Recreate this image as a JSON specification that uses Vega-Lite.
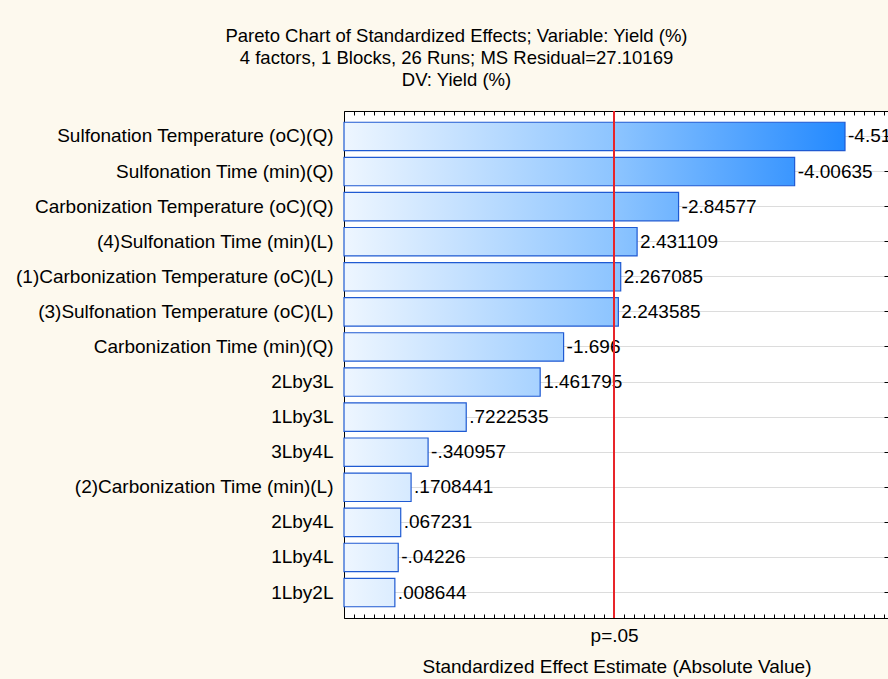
{
  "$schema": "https://vega.github.io/schema/vega-lite/v6.json",
  "width": 545,
  "height": 507,
  "autosize": {"type": "none"},
  "padding": {"left": 344, "top": 111, "right": 0, "bottom": 61},
  "background": "#FDF9EE",
  "config": {
    "view": {"fill": "white", "stroke": null},
    "font": "Liberation Sans",
    "axis": {"labelFont": "Liberation Sans", "titleFont": "Liberation Sans"}
  },
  "title": {
    "text": [
      "Pareto Chart of Standardized Effects; Variable: Yield (%)",
      "4 factors, 1 Blocks, 26 Runs; MS Residual=27.10169",
      "DV: Yield (%)"
    ],
    "font": "Liberation Sans",
    "fontSize": 18.5,
    "fontWeight": "normal",
    "color": "black",
    "lineHeight": 22,
    "anchor": "middle",
    "dx": -160,
    "offset": 21
  },
  "data": {
    "values": [
      {"term": "Sulfonation Temperature (oC)(Q)", "abs_effect": 4.51, "label": "-4.51"},
      {"term": "Sulfonation Time (min)(Q)", "abs_effect": 4.00635, "label": "-4.00635"},
      {"term": "Carbonization Temperature (oC)(Q)", "abs_effect": 2.84577, "label": "-2.84577"},
      {"term": "(4)Sulfonation Time (min)(L)", "abs_effect": 2.431109, "label": "2.431109"},
      {"term": "(1)Carbonization Temperature (oC)(L)", "abs_effect": 2.267085, "label": "2.267085"},
      {"term": "(3)Sulfonation Temperature (oC)(L)", "abs_effect": 2.243585, "label": "2.243585"},
      {"term": "Carbonization Time (min)(Q)", "abs_effect": 1.696, "label": "-1.696"},
      {"term": "2Lby3L", "abs_effect": 1.461795, "label": "1.461795"},
      {"term": "1Lby3L", "abs_effect": 0.7222535, "label": ".7222535"},
      {"term": "3Lby4L", "abs_effect": 0.340957, "label": "-.340957"},
      {"term": "(2)Carbonization Time (min)(L)", "abs_effect": 0.1708441, "label": ".1708441"},
      {"term": "2Lby4L", "abs_effect": 0.067231, "label": ".067231"},
      {"term": "1Lby4L", "abs_effect": 0.04226, "label": "-.04226"},
      {"term": "1Lby2L", "abs_effect": 0.008644, "label": ".008644"}
    ]
  },
  "layer": [
    {
      "mark": {
        "type": "bar",
        "stroke": "#1F5AD2",
        "strokeWidth": 1.2,
        "fill": {"expr": "{gradient: 'linear', x1: 0, y1: 0, x2: 5.45 / (datum.abs_effect + 0.5), y2: 0, stops: [{offset: 0, color: '#EEF6FF'}, {offset: 0.5, color: '#8CC4FF'}, {offset: 1, color: '#0F7EFF'}]}"}
      },
      "encoding": {
        "y": {
          "field": "term",
          "type": "nominal",
          "sort": null,
          "scale": {"paddingInner": 0.19, "paddingOuter": 0.32},
          "axis": {
            "orient": "left",
            "title": null,
            "labelFontSize": 19,
            "labelColor": "black",
            "labelLimit": 400,
            "labelPadding": 16,
            "tickSize": -5,
            "tickColor": "black",
            "domainColor": "black",
            "grid": true,
            "gridColor": "#DCDCDC",
            "bandPosition": 0.5
          }
        },
        "x": {
          "field": "abs_effect",
          "type": "quantitative",
          "scale": {"domain": [-0.5, 4.95], "nice": false, "zero": false},
          "axis": {
            "orient": "bottom",
            "title": "Standardized Effect Estimate (Absolute Value)",
            "titleFontSize": 19,
            "titleFontWeight": "normal",
            "titleColor": "black",
            "titlePadding": 12,
            "values": [-0.5, -0.4, -0.3, -0.2, -0.1, 0, 0.1, 0.2, 0.3, 0.4, 0.5, 0.6, 0.7, 0.8, 0.9, 1, 1.1, 1.2, 1.3, 1.4, 1.5, 1.6, 1.7, 1.8, 1.9, 2, 2.1, 2.2, 2.201, 2.3, 2.4, 2.5, 2.6, 2.7, 2.8, 2.9, 3, 3.1, 3.2, 3.3, 3.4, 3.5, 3.6, 3.7, 3.8, 3.9, 4, 4.1, 4.2, 4.3, 4.4, 4.5, 4.6, 4.7, 4.8, 4.9],
            "labelExpr": "abs(datum.value - 2.201) < 0.0005 ? 'p=.05' : ''",
            "labelOverlap": false,
            "labelFlush": false,
            "labelFontSize": 19,
            "labelColor": "black",
            "labelPadding": 12,
            "tickSize": -4,
            "tickColor": "black",
            "tickOpacity": {"condition": {"test": "abs(datum.value - 2.201) < 0.0005", "value": 0}, "value": 1},
            "domainColor": "black",
            "grid": false
          }
        },
        "x2": {"datum": -0.5}
      }
    },
    {
      "mark": {"type": "text", "align": "left", "baseline": "middle", "dx": 3, "fontSize": 19, "color": "black", "font": "Liberation Sans"},
      "encoding": {
        "y": {
          "field": "term",
          "type": "nominal",
          "sort": null,
          "axis": {
            "orient": "right",
            "title": null,
            "labels": false,
            "domain": false,
            "tickSize": -5,
            "tickColor": "black",
            "grid": false,
            "bandPosition": 0.5
          }
        },
        "x": {"field": "abs_effect", "type": "quantitative", "axis": null},
        "text": {"field": "label", "type": "nominal"}
      }
    },
    {
      "mark": {"type": "rule", "color": "#E8262A", "strokeWidth": 1},
      "encoding": {
        "x": {
          "datum": 2.201,
          "type": "quantitative",
          "axis": {
            "orient": "top",
            "title": null,
            "labels": false,
            "values": [-0.5, -0.4, -0.3, -0.2, -0.1, 0, 0.1, 0.2, 0.3, 0.4, 0.5, 0.6, 0.7, 0.8, 0.9, 1, 1.1, 1.2, 1.3, 1.4, 1.5, 1.6, 1.7, 1.8, 1.9, 2, 2.1, 2.2, 2.3, 2.4, 2.5, 2.6, 2.7, 2.8, 2.9, 3, 3.1, 3.2, 3.3, 3.4, 3.5, 3.6, 3.7, 3.8, 3.9, 4, 4.1, 4.2, 4.3, 4.4, 4.5, 4.6, 4.7, 4.8, 4.9],
            "tickSize": -4,
            "tickColor": "black",
            "domainColor": "black",
            "grid": false
          }
        }
      }
    }
  ],
  "resolve": {"axis": {"x": "independent", "y": "independent"}}
}
